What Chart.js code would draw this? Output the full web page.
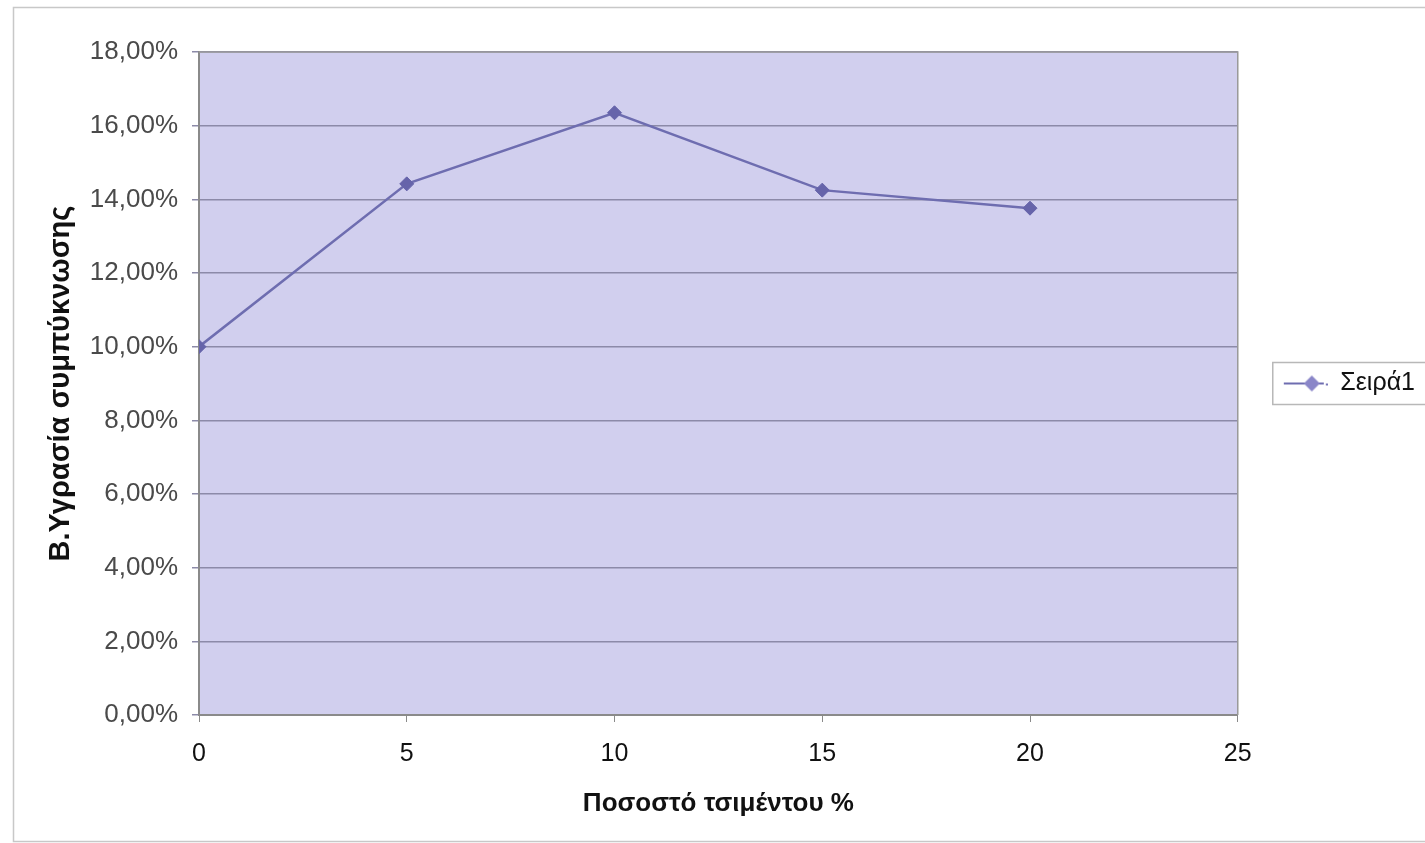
<!DOCTYPE html>
<html>
<head>
<meta charset="utf-8">
<script src="https://cdn.jsdelivr.net/npm/chart.js@4.4.1/dist/chart.umd.min.js"></script>
<style>
  html, body { margin: 0; padding: 0; background: #ffffff; }
  #wrap { width: 1425px; height: 843px; position: relative; }
  canvas { display: block; }
</style>
</head>
<body>
<div id="wrap"><canvas id="c" width="1425" height="843"></canvas></div>
<script>
// ---- data ----
const cementPercent = [0, 5, 10, 15, 20];
const moistureValues = [10.0, 14.42, 16.35, 14.25, 13.76];
const seriesName = 'Σειρά1';
const xTitle = 'Ποσοστό τσιμέντου %';
const yTitle = 'Β.Υγρασία συμπύκνωσης';
const yMin = 0, yMax = 18, yStep = 2;
const xMin = 0, xMax = 25, xStep = 5;

// ---- styles ----
const lineColor = '#6e6db0';
const markerColor = '#6664aa';
const plotBg = '#d1cfee';
const gridColor = '#8c8aa8';
const axisColor = '#8a8a8a';
const FONT = "'Liberation Sans', Arial, Helvetica, sans-serif";

// legend symbol: line with diamond
function legendSymbol() {
  const c = document.createElement('canvas');
  c.width = 56; c.height = 20;
  const g = c.getContext('2d');
  g.strokeStyle = lineColor; g.lineWidth = 2;
  g.beginPath(); g.moveTo(12, 10); g.lineTo(52, 10); g.stroke();
  g.fillStyle = '#8a86c8';
  g.beginPath(); g.moveTo(40, 2); g.lineTo(48, 10); g.lineTo(40, 18); g.lineTo(32, 10); g.closePath(); g.fill();
  g.fillStyle = '#7a78b8';
  g.fillRect(54, 10, 2, 2);
  return c;
}

const points = cementPercent.map((x, i) => ({ x: x, y: moistureValues[i] }));

const decorPlugin = {
  id: 'decor',
  beforeDraw(chart) {
    const { ctx, chartArea: a } = chart;
    ctx.save();
    ctx.fillStyle = '#ffffff';
    ctx.fillRect(0, 0, chart.width, chart.height);
    ctx.strokeStyle = '#c8c8c8';
    ctx.lineWidth = 1.5;
    ctx.strokeRect(13.5, 7.5, chart.width + 20, chart.height - 9);
    ctx.fillStyle = plotBg;
    ctx.fillRect(a.left, a.top, a.right - a.left, a.bottom - a.top);
    ctx.restore();
  },
  afterDatasetsDraw(chart) {
    const { ctx, chartArea: a } = chart;
    ctx.save();
    ctx.strokeStyle = '#999999';
    ctx.lineWidth = 1.5;
    ctx.beginPath();
    ctx.moveTo(a.left, a.top); ctx.lineTo(a.right, a.top); ctx.lineTo(a.right, a.bottom);
    ctx.stroke();
    ctx.restore();
  },
  afterDraw(chart) {
    const lg = chart.legend;
    if (!lg || !lg.legendHitBoxes || !lg.legendHitBoxes.length) return;
    const hb = lg.legendHitBoxes[0];
    const { ctx } = chart;
    ctx.save();
    ctx.strokeStyle = '#b8b8b8';
    ctx.lineWidth = 1.5;
    const cy = hb.top + hb.height / 2;
    ctx.strokeRect(hb.left + 1, cy - 21, 200, 42);
    ctx.restore();
  }
};

new Chart(document.getElementById('c'), {
  type: 'line',
  data: {
    datasets: [{
      label: seriesName,
      data: points,
      borderColor: lineColor,
      borderWidth: 2.5,
      backgroundColor: markerColor,
      pointBackgroundColor: markerColor,
      pointBorderColor: markerColor,
      pointStyle: 'rectRot',
      pointRadius: 7,
      pointBorderWidth: 1,
      tension: 0,
      fill: false
    }]
  },
  options: {
    responsive: false,
    animation: false,
    devicePixelRatio: 1,
    layout: { padding: { top: 52, right: 0, bottom: 0, left: 0 } },
    plugins: {
      tooltip: { enabled: false },
      legend: {
        position: 'right',
        fullSize: false,
        labels: {
          usePointStyle: true,
          pointStyle: legendSymbol(),
          pointStyleWidth: 56,
          padding: 34,
          color: '#111111',
          font: { family: FONT, size: 25 }
        }
      }
    },
    scales: {
      x: {
        type: 'linear',
        min: xMin, max: xMax,
        afterFit(s) { s.height = 128; },
        border: { display: true, color: axisColor, width: 2 },
        grid: { drawOnChartArea: false, drawTicks: true, tickLength: 7, color: axisColor, lineWidth: 1 },
        ticks: { stepSize: xStep, padding: 17, color: '#111111', font: { family: FONT, size: 25 } },
        title: { display: true, text: xTitle, color: '#111111', padding: { top: 0, bottom: 24 }, font: { family: FONT, size: 26, weight: 'bold' } }
      },
      y: {
        min: yMin, max: yMax,
        afterFit(s) { s.width = 199; },
        border: { display: true, color: axisColor, width: 2 },
        grid: { color: gridColor, lineWidth: 1.5, tickLength: 7, drawTicks: true },
        ticks: {
          stepSize: yStep, padding: 14, color: '#4a4a4a',
          font: { family: FONT, size: 26 },
          callback: (v) => v.toFixed(2).replace('.', ',') + '%'
        },
        title: { display: true, text: yTitle, color: '#111111', padding: { top: 44, bottom: 0 }, font: { family: FONT, size: 29, weight: 'bold' } }
      }
    }
  },
  plugins: [decorPlugin]
});
</script>
</body>
</html>
